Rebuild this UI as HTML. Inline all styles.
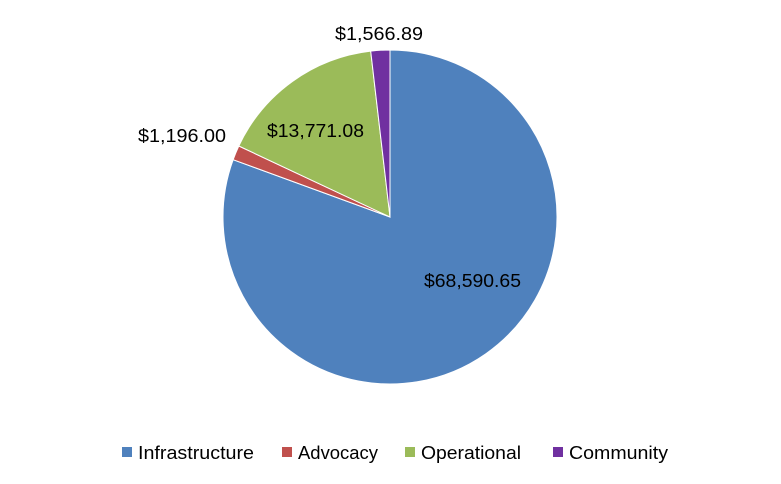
<!DOCTYPE html>
<html><head><meta charset="utf-8"><style>
body{margin:0;background:#fff;}
svg{display:block;font-family:"Liberation Sans",sans-serif;}
</style></head><body>
<svg width="781" height="484" viewBox="0 0 781 484">
<g stroke="#fff" stroke-width="1">
<path d="M390,217 L390,50 A167,167 0 1,1 233.15,159.67 Z" fill="#4F81BD"/>
<path d="M390,217 L233.15,159.67 A167,167 0 0,1 238.8,146.0 Z" fill="#C0504D"/>
<path d="M390,217 L238.8,146.0 A167,167 0 0,1 370.7,51.1 Z" fill="#9BBB59"/>
<path d="M390,217 L370.7,51.1 A167,167 0 0,1 390,50 Z" fill="#7030A0"/>
</g>
<g font-size="18" fill="#000">
<text x="424" y="287" textLength="97" lengthAdjust="spacingAndGlyphs">$68,590.65</text>
<text x="267" y="137" textLength="97" lengthAdjust="spacingAndGlyphs">$13,771.08</text>
<text x="138" y="142" textLength="88" lengthAdjust="spacingAndGlyphs">$1,196.00</text>
<text x="335" y="40" textLength="88" lengthAdjust="spacingAndGlyphs">$1,566.89</text>
</g>
<g font-size="18" fill="#000">
<rect x="122" y="447" width="10" height="10" fill="#4F81BD"/><text x="138" y="459" textLength="116" lengthAdjust="spacingAndGlyphs">Infrastructure</text>
<rect x="282" y="447" width="10" height="10" fill="#C0504D"/><text x="298" y="459" textLength="80" lengthAdjust="spacingAndGlyphs">Advocacy</text>
<rect x="405" y="447" width="10" height="10" fill="#9BBB59"/><text x="421" y="459" textLength="100" lengthAdjust="spacingAndGlyphs">Operational</text>
<rect x="553" y="447" width="10" height="10" fill="#7030A0"/><text x="569" y="459" textLength="99" lengthAdjust="spacingAndGlyphs">Community</text>
</g>
</svg>
</body></html>
